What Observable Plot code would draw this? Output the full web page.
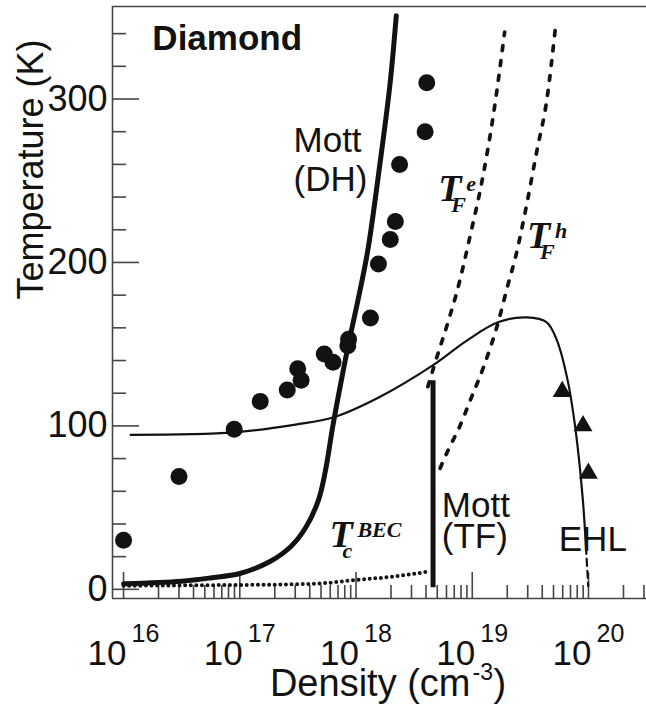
<!DOCTYPE html>
<html><head><meta charset="utf-8">
<script src="https://cdn.jsdelivr.net/npm/d3@7"></script>
<script src="https://cdn.jsdelivr.net/npm/@observablehq/plot@0.6"></script>
<style>body{margin:0;background:#fff}svg{display:block}</style>
</head><body><div id="chart"></div>
<script>
// ---------- data (density in cm^-3, temperature in K) ----------
const circleDensity = [1.0e16, 3.0e16, 8.95e16, 1.5e17, 2.56e17, 3.37e17, 3.15e17, 5.33e17, 6.34e17, 8.63e17, 8.5e17, 1.33e18, 1.56e18, 1.97e18, 2.18e18, 2.37e18, 3.93e18, 4.06e18];
const circleTemp    = [30, 69, 98, 115, 122, 128, 135, 144, 139, 153, 149, 166, 199, 214, 225, 260, 280, 310];

const triangleDensity = [5.94e19, 8.97e19, 9.98e19];
const triangleTemp    = [121, 100, 71];

const mottDHDensity = [1.0e16, 3.16e16, 5.62e16, 1.0e17, 1.82e17, 2.75e17, 3.67e17, 4.75e17, 5.46e17, 6.32e17, 7.87e17, 8.79e17, 1.04e18, 1.26e18, 1.59e18, 1.96e18, 2.22e18];
const mottDHTemp    = [3.4, 5.0, 7.0, 9.7, 17, 26.2, 37.5, 54.6, 72.7, 100, 136, 153, 177, 207, 258, 309, 351];

const ionDensity = [1.15e16, 8.91e16, 3.02e17, 6.46e17, 1.58e18, 4.57e18, 8.91e18, 1.66e19, 2.95e19, 4.37e19, 5.37e19, 6.61e19, 7.76e19, 8.91e19, 9.51e19];
const ionTemp    = [94.5, 96, 100.8, 105.3, 117.5, 137, 152, 163.4, 166.4, 163.4, 152, 128, 97, 56, 26];
const ehlTailDensity = [9.51e19, 9.95e19];
const ehlTailTemp    = [26, 2];

const tfeDensity = [4.15e18, 4.76e18, 6.28e18, 7.31e18, 9.64e18, 1.23e19, 1.51e19, 1.90e19];
const tfeTemp    = [124, 138, 165, 181, 217, 252, 289, 341];

const tfhDensity = [5.28e18, 6.28e18, 7.73e18, 9.53e18, 1.25e19, 1.65e19, 2.04e19, 2.37e19, 2.82e19, 3.59e19, 4.41e19, 5.18e19];
const tfhTemp    = [74, 86, 99, 115, 136, 162, 187, 204, 229, 268, 301, 343];

const becDensity = [1.0e16, 6.31e16, 2.51e17, 5.13e17, 1.02e18, 1.86e18, 3.16e18, 4.37e18];
const becTemp    = [2.2, 2.6, 3.0, 3.7, 5.8, 7.4, 9.5, 11.1];

const mottTFDensity = 4.6e18;
const mottTFTemp    = [1, 127.7];

// ---------- ticks ----------
const xMajorTicks = [1e16, 1e17, 1e18, 1e19, 1e20];
const xTickExponents = ["16", "17", "18", "19", "20"];
const xMinorTicks = [
  2e16,3e16,4e16,5e16,6e16,7e16,8e16,9e16,
  2e17,3e17,4e17,5e17,6e17,7e17,8e17,9e17,
  2e18,3e18,4e18,5e18,6e18,7e18,8e18,9e18,
  2e19,3e19,4e19,5e19,6e19,7e19,8e19,9e19,
  2e20,3e20];
const yMajorTicks = [0, 100, 200, 300];
const yMinorTicks = [20, 40, 60, 80, 120, 140, 160, 180, 220, 240, 260, 280, 320, 340];

// ---------- annotations (data coordinates, baseline-left) ----------
const sansLabels = [
  {text: "Mott", x: 2.90e17, y: 267.5},
  {text: "(DH)", x: 2.90e17, y: 243.9},
  {text: "Mott", x: 5.47e18, y: 44.5},
  {text: "(TF)", x: 5.47e18, y: 25.0},
  {text: "EHL",  x: 5.55e19, y: 23.7}
];
const titleLabel = {text: "Diamond", x: 1.77e16, y: 330};
const tLabels = [
  {main: "T", sub: "F", sup: "e",   x: 5.10e18, y: 237.8},
  {main: "T", sub: "F", sup: "h",   x: 2.96e19, y: 208.9},
  {main: "T", sub: "c", sup: "BEC", x: 5.90e17, y: 25.7}
];

const W = 646, H = 706, mL = 112, mR = 0, mT = 6, mB = 108;
const frameW = W - mL - mR, frameH = H - mT - mB;
const xDomain = [10 ** 15.905, 10 ** 20.499];
const yDomain = [-5.6, 356.6];
// tick lengths expressed through the scales (pixels measured from the frame edge)
const xAtPx = px => xDomain[0] * (xDomain[1] / xDomain[0]) ** (px / frameW);
const yAtPx = px => yDomain[0] + (yDomain[1] - yDomain[0]) * px / frameH;

const pts = (xs, ys) => xs.map((x, i) => ({x, y: ys[i]}));
const ink = "#121212";
const axisInk = "#454545";
const sans = "'Liberation Sans', Arial, Helvetica, sans-serif";
const serif = "'Liberation Serif', 'Times New Roman', serif";
const tStyle = {fontFamily: serif, fontWeight: "bold", fontStyle: "italic", fill: ink, textAnchor: "start", lineAnchor: "bottom"};
const axisStyle = {stroke: axisInk, strokeWidth: 1.6};

const chart = Plot.plot({
  width: W, height: H,
  marginLeft: mL, marginRight: mR, marginTop: mT, marginBottom: mB,
  x: {type: "log", domain: xDomain, axis: null},
  y: {domain: yDomain, axis: null},
  style: {fontFamily: sans, color: ink, background: "white", overflow: "visible"},
  marks: [
    // frame lines
    Plot.ruleX([xDomain[0]], axisStyle),
    Plot.ruleY([yDomain[0], yDomain[1]], axisStyle),
    // inward ticks
    Plot.ruleY(yMinorTicks, {y: d => d, x1: xDomain[0], x2: xAtPx(14), ...axisStyle}),
    Plot.ruleY(yMajorTicks, {y: d => d, x1: xDomain[0], x2: xAtPx(27), ...axisStyle}),
    Plot.ruleX(xMinorTicks, {x: d => d, y1: yDomain[0], y2: yAtPx(13), ...axisStyle}),
    Plot.ruleX(xMajorTicks, {x: d => d, y1: yDomain[0], y2: yAtPx(26), ...axisStyle}),
    // tick labels
    Plot.text(yMajorTicks, {y: d => d, frameAnchor: "left", dx: -5, textAnchor: "end", lineAnchor: "middle", text: d => `${d}`, fontSize: 36, fill: ink}),
    Plot.text(xMajorTicks, {x: d => d, frameAnchor: "bottom", dx: 3, dy: 66, textAnchor: "end", lineAnchor: "bottom", text: () => "10", fontSize: 35, fill: ink}),
    Plot.text(xMajorTicks, {x: d => d, frameAnchor: "bottom", dx: 8, dy: 43, textAnchor: "start", lineAnchor: "bottom", text: (d, i) => xTickExponents[i], fontSize: 25, fill: ink}),
    // axis titles
    Plot.text(["Temperature (K)"], {frameAnchor: "left", dx: -81, dy: -3, rotate: -90, text: d => d, fontSize: 36, fill: ink}),
    Plot.text(["Density (cm"], {frameAnchor: "bottom", dx: 91, dy: 97, textAnchor: "end", lineAnchor: "bottom", text: d => d, fontSize: 38, fill: ink}),
    Plot.text(["-3"], {frameAnchor: "bottom", dx: 93, dy: 81, textAnchor: "start", lineAnchor: "bottom", text: d => d, fontSize: 23, fill: ink}),
    Plot.text([")"], {frameAnchor: "bottom", dx: 114, dy: 97, textAnchor: "start", lineAnchor: "bottom", text: d => d, fontSize: 38, fill: ink}),
    // curves
    Plot.line(pts(becDensity, becTemp), {x: "x", y: "y", curve: "monotone-x", stroke: ink, strokeWidth: 4, strokeDasharray: "0,5.6", strokeLinecap: "round"}),
    Plot.line(pts(tfeDensity, tfeTemp), {x: "x", y: "y", curve: "monotone-x", stroke: ink, strokeWidth: 3.7, strokeDasharray: "5,10", strokeLinecap: "round"}),
    Plot.line(pts(tfhDensity, tfhTemp), {x: "x", y: "y", curve: "monotone-x", stroke: ink, strokeWidth: 3.7, strokeDasharray: "5,10", strokeLinecap: "round"}),
    Plot.line(pts(ionDensity, ionTemp), {x: "x", y: "y", curve: "catmull-rom", stroke: ink, strokeWidth: 2.2}),
    Plot.line(pts(ehlTailDensity, ehlTailTemp), {x: "x", y: "y", stroke: ink, strokeWidth: 2.2, strokeDasharray: "7,5"}),
    Plot.line(pts(mottDHDensity, mottDHTemp), {x: "x", y: "y", curve: "catmull-rom", stroke: ink, strokeWidth: 5}),
    Plot.ruleX([mottTFDensity], {y1: mottTFTemp[0], y2: mottTFTemp[1], stroke: ink, strokeWidth: 5}),
    // data points
    Plot.dot(pts(circleDensity, circleTemp), {x: "x", y: "y", r: 8.5, fill: ink, stroke: "none"}),
    Plot.dot(pts(triangleDensity, triangleTemp), {x: "x", y: "y", r: 7, symbol: "triangle", fill: ink, stroke: "none"}),
    // annotations
    Plot.text([titleLabel], {x: "x", y: "y", text: "text", textAnchor: "start", lineAnchor: "bottom", fontSize: 35, fontWeight: "bold", fill: ink}),
    Plot.text(sansLabels, {x: "x", y: "y", text: "text", textAnchor: "start", lineAnchor: "bottom", fontSize: 35, fill: ink}),
    Plot.text(tLabels, {x: "x", y: "y", text: "main", fontSize: 38, ...tStyle}),
    Plot.text(tLabels, {x: "x", y: "y", text: "sub", dx: 13, dy: 11, fontSize: 22, ...tStyle}),
    Plot.text(tLabels, {x: "x", y: "y", text: "sup", dx: 28, dy: -10, fontSize: 22, ...tStyle})
  ]
});
document.getElementById("chart").append(chart);
</script>
</body></html>
